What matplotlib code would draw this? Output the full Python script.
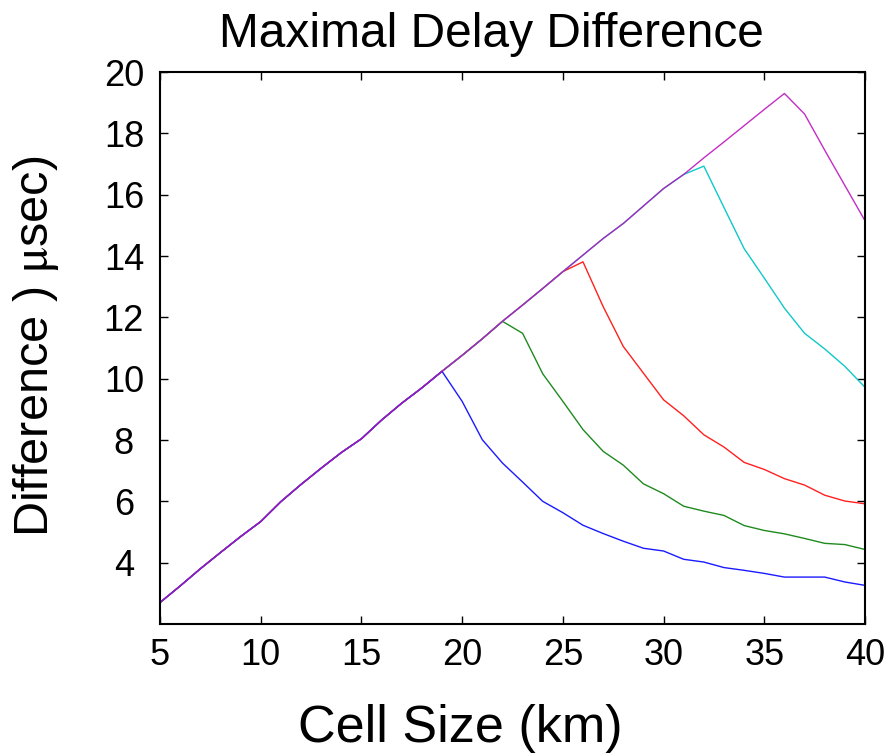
#!/usr/bin/env python3
"""Maximal delay difference versus cell size, one curve per setting."""
import matplotlib
matplotlib.use("Agg")
import matplotlib.pyplot as plt

plt.rcParams['font.family'] = ['Liberation Sans', 'DejaVu Sans']
plt.rcParams['mathtext.fontset'] = 'stix'

cell_size = [5, 6, 7, 8, 9, 10, 11, 12, 13, 14, 15, 16, 17, 18, 19, 20, 21, 22,
             23, 24, 25, 26, 27, 28, 29, 30, 31, 32, 33, 34, 35, 36, 37, 38,
             39, 40]

blue_vals = [2.70, 3.24, 3.80, 4.33, 4.85, 5.34, 5.99, 6.55, 7.08, 7.59, 8.04,
             8.65, 9.20, 9.70, 10.24, 9.26, 8.01, 7.25, 6.63, 6.00, 5.63,
             5.22, 4.95, 4.70, 4.47, 4.38, 4.11, 4.02, 3.84, 3.75, 3.65, 3.53,
             3.53, 3.53, 3.37, 3.26]
green_vals = [2.70, 3.24, 3.80, 4.33, 4.85, 5.34, 5.99, 6.55, 7.08, 7.59, 8.04,
              8.65, 9.20, 9.70, 10.24, 10.76, 11.30, 11.87, 11.48, 10.16,
              9.26, 8.34, 7.63, 7.18, 6.57, 6.25, 5.84, 5.68, 5.54, 5.21, 5.05,
              4.94, 4.79, 4.63, 4.59, 4.43]
red_vals = [2.70, 3.24, 3.80, 4.33, 4.85, 5.34, 5.99, 6.55, 7.08, 7.59, 8.04,
            8.65, 9.20, 9.70, 10.24, 10.76, 11.30, 11.87, 12.40, 12.94, 13.49,
            13.81, 12.35, 11.05, 10.18, 9.31, 8.79, 8.17, 7.77, 7.27, 7.04,
            6.74, 6.53, 6.20, 6.01, 5.92]
cyan_vals = [2.70, 3.24, 3.80, 4.33, 4.85, 5.34, 5.99, 6.55, 7.08, 7.59, 8.04,
             8.65, 9.20, 9.70, 10.24, 10.76, 11.30, 11.87, 12.40, 12.94, 13.49,
             14.03, 14.57, 15.06, 15.63, 16.20, 16.66, 16.93, 15.58, 14.24,
             13.28, 12.30, 11.48, 10.97, 10.40, 9.72]
magenta_vals = [2.70, 3.24, 3.80, 4.33, 4.85, 5.34, 5.99, 6.55, 7.08, 7.59,
                8.04, 8.65, 9.20, 9.70, 10.24, 10.76, 11.30, 11.87, 12.40,
                12.94, 13.49, 14.03, 14.57, 15.06, 15.63, 16.20, 16.66, 17.20,
                17.72, 18.25, 18.78, 19.30, 18.63, 17.45, 16.30, 15.15]

x_ticks = [5, 10, 15, 20, 25, 30, 35, 40]
y_ticks = [4, 6, 8, 10, 12, 14, 16, 18, 20]

fig = plt.figure(figsize=(8.96, 7.54), dpi=100)
axis = fig.add_axes([160 / 896, 1 - 624 / 754, 705 / 896, 552 / 754])

# drawn so the magenta on top of blue gives the purple shared segment
axis.plot(cell_size, green_vals, color='#1f8a1f', lw=1.0)
axis.plot(cell_size, red_vals, color='#ff2020', lw=1.0)
axis.plot(cell_size, cyan_vals, color='#10c8c8', lw=1.0)
axis.plot(cell_size, blue_vals, color='#1a1aff', lw=1.0)
axis.plot(cell_size, magenta_vals, color='#bb11bb', lw=1.0, alpha=0.88)

axis.set_xlim(5, 40)
axis.set_ylim(2, 20)
axis.set_xticks(x_ticks)
axis.set_yticks(y_ticks)
axis.tick_params(direction='in', length=6, width=1, top=True, right=True,
                 labelsize=26)
axis.tick_params(axis='x', pad=10)
axis.tick_params(axis='y', pad=26)
for lbl in axis.get_yticklabels():
    lbl.set_horizontalalignment('center')
for spine in axis.spines.values():
    spine.set_linewidth(1.5)

fig.text(491 / 896, 1 - 46.7 / 754, 'Maximal Delay Difference',
         fontsize=34.5, ha='center', va='baseline')
fig.text(460 / 896, 1 - 742 / 754, 'Cell Size (km)',
         fontsize=37.5, ha='center', va='baseline')
fig.text(36 / 896, 1 - 346 / 754, r'Difference ) $\mathrm{\mu}$sec)',
         fontsize=35, rotation=90, ha='center', va='center')

fig.savefig('out.png', dpi=100)
plt.close()
